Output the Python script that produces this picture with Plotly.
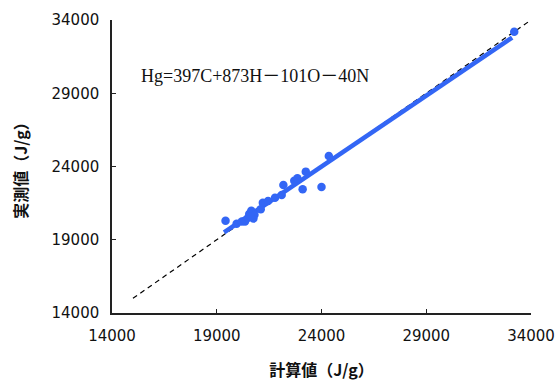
import plotly.graph_objects as go

# measured (y) vs calculated (x) heating values, J/g
calc_x = [19420, 19950, 20200, 20350, 20500, 20550, 20650, 20700, 20750, 20800, 20600,
          21100, 21200, 21450, 21780, 22100, 22180, 22700, 22850, 23100, 23250, 24000,
          24350, 33200]
meas_y = [20300, 20100, 20250, 20250, 20500, 20760, 20980, 20850, 20450, 20700, 20600,
          21080, 21530, 21650, 21870, 22050, 22730, 23030, 23200, 22450, 23650, 22600,
          24720, 33200]

# fitted line end points
fit_x = [19350, 33100]
fit_y = [19500, 32800]

# y = x reference line
ref_x = [15000, 34000]
ref_y = [15000, 34000]

ticks = [14000, 19000, 24000, 29000, 34000]
tick_text = ["14000", "19000", "24000", "29000", "34000"]

blue = "#3366F5"

fig = go.Figure()
fig.add_trace(go.Scatter(x=ref_x, y=ref_y, mode="lines",
                         line=dict(color="black", width=1.2, dash="5px,4px"),
                         showlegend=False, hoverinfo="skip"))
fig.add_trace(go.Scatter(x=fit_x, y=fit_y, mode="lines",
                         line=dict(color=blue, width=4.5),
                         showlegend=False))
fig.add_trace(go.Scatter(x=calc_x, y=meas_y, mode="markers",
                         marker=dict(color=blue, size=8.5, line=dict(width=0)),
                         showlegend=False))

axis_common = dict(
    range=[14000, 34000], tickvals=ticks, ticktext=tick_text,
    showgrid=False, zeroline=False, showline=True, linecolor="#222",
    linewidth=1.5, ticks="inside", ticklen=4, tickwidth=1.2, tickcolor="#222",
    ticklabelstandoff=8, automargin=False,
    tickfont=dict(family="DejaVu Sans", size=15, color="#111"),
)

fig.update_layout(
    width=559, height=381,
    margin=dict(l=112, r=28, t=20, b=68),
    paper_bgcolor="white", plot_bgcolor="white",
    xaxis=dict(**axis_common,
               title=dict(text="計算値（J/g）", standoff=22,
                          font=dict(family="Noto Sans CJK JP", size=16, color="#111",
                                    weight="bold"))),
    yaxis=dict(**axis_common,
               title=dict(text="実測値（J/g）", standoff=20,
                          font=dict(family="Noto Sans CJK JP", size=16, color="#111",
                                    weight="bold"))),
    annotations=[dict(x=15300, y=30180, xref="x", yref="y", xanchor="left",
                      yanchor="middle", showarrow=False,
                      text="Hg=397C+873H－101O－40N",
                      font=dict(family="Liberation Serif, Noto Sans CJK JP", size=18,
                                color="#111"))],
)

fig.write_html("out.html")
